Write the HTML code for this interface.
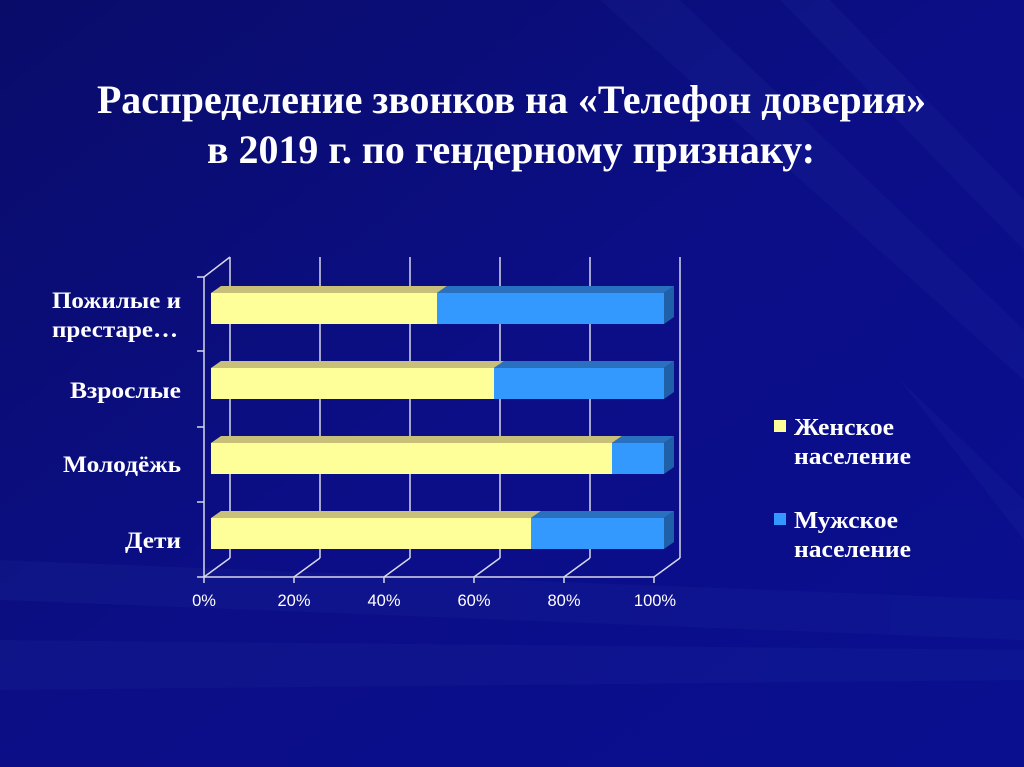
<!DOCTYPE html>
<html><head><meta charset="utf-8"><style>html,body{margin:0;padding:0;background:#0a0a7a}svg{display:block}</style></head>
<body>
<svg width="1024" height="767" viewBox="0 0 1024 767" xmlns="http://www.w3.org/2000/svg">
<defs>
<linearGradient id="bg" x1="0" y1="0" x2="1" y2="1">
<stop offset="0" stop-color="#0a0c6a"/><stop offset="0.5" stop-color="#0b0e86"/><stop offset="1" stop-color="#0a0f90"/>
</linearGradient>
</defs>
<rect width="1024" height="767" fill="url(#bg)"/>
<g fill="#2a3aa8" opacity="0.14">
<polygon points="0,560 1024,600 1024,640 0,600"/>
<polygon points="600,0 680,0 1024,330 1024,380"/>
<polygon points="780,0 830,0 1024,200 1024,250"/>
<polygon points="0,640 1024,650 1024,680 0,690"/>
<polygon points="900,380 1024,500 1024,540"/>
</g>
<g font-family="Liberation Serif, serif" font-weight="bold" fill="#fff" font-size="40">
<text x="97" y="113" textLength="829" lengthAdjust="spacingAndGlyphs">Распределение звонков на «Телефон доверия»</text>
<text x="207" y="163" textLength="608" lengthAdjust="spacingAndGlyphs">в 2019 г. по гендерному признаку:</text>
</g>
<g stroke="#d8d8e8" stroke-width="1.5" fill="none">
<polyline points="230,558 230,257"/>
<line x1="320" y1="558" x2="320" y2="257"/><line x1="410" y1="558" x2="410" y2="257"/>
<line x1="500" y1="558" x2="500" y2="257"/><line x1="590" y1="558" x2="590" y2="257"/>
<line x1="680" y1="558" x2="680" y2="257"/>
<polyline points="204,277 204,577 654,577"/>
<line x1="204" y1="277" x2="230" y2="257"/>
<line x1="204" y1="577" x2="230" y2="558"/><line x1="294" y1="577" x2="320" y2="558"/>
<line x1="384" y1="577" x2="410" y2="558"/><line x1="474" y1="577" x2="500" y2="558"/>
<line x1="564" y1="577" x2="590" y2="558"/><line x1="654" y1="577" x2="680" y2="558"/>
<line x1="197" y1="277" x2="204" y2="277"/><line x1="197" y1="351" x2="204" y2="351"/>
<line x1="197" y1="427" x2="204" y2="427"/><line x1="197" y1="502" x2="204" y2="502"/>
<line x1="197" y1="577" x2="204" y2="577"/>
<line x1="204" y1="577" x2="204" y2="583"/><line x1="294" y1="577" x2="294" y2="583"/>
<line x1="384" y1="577" x2="384" y2="583"/><line x1="474" y1="577" x2="474" y2="583"/>
<line x1="564" y1="577" x2="564" y2="583"/><line x1="654" y1="577" x2="654" y2="583"/>
</g>
<g id="bars">
<polygon points="211,293 221,286 447,286 437,293" fill="#c8c078"/>
<polygon points="437,293 447,286 674,286 664,293" fill="#2a70c0"/>
<polygon points="664,293 674,286 674,317 664,324" fill="#2060a8"/>
<rect x="211" y="293" width="226" height="31" fill="#ffff99"/>
<rect x="437" y="293" width="227" height="31" fill="#3399ff"/>
<polygon points="211,368 221,361 504,361 494,368" fill="#c8c078"/>
<polygon points="494,368 504,361 674,361 664,368" fill="#2a70c0"/>
<polygon points="664,368 674,361 674,392 664,399" fill="#2060a8"/>
<rect x="211" y="368" width="283" height="31" fill="#ffff99"/>
<rect x="494" y="368" width="170" height="31" fill="#3399ff"/>
<polygon points="211,443 221,436 622,436 612,443" fill="#c8c078"/>
<polygon points="612,443 622,436 674,436 664,443" fill="#2a70c0"/>
<polygon points="664,443 674,436 674,467 664,474" fill="#2060a8"/>
<rect x="211" y="443" width="401" height="31" fill="#ffff99"/>
<rect x="612" y="443" width="52" height="31" fill="#3399ff"/>
<polygon points="211,518 221,511 541,511 531,518" fill="#c8c078"/>
<polygon points="531,518 541,511 674,511 664,518" fill="#2a70c0"/>
<polygon points="664,518 674,511 674,542 664,549" fill="#2060a8"/>
<rect x="211" y="518" width="320" height="31" fill="#ffff99"/>
<rect x="531" y="518" width="133" height="31" fill="#3399ff"/>
</g>
<g font-family="Liberation Serif, serif" font-weight="bold" fill="#fff" font-size="23">
<text x="52" y="308" textLength="129" lengthAdjust="spacingAndGlyphs">Пожилые и</text>
<text x="52" y="337" textLength="126" lengthAdjust="spacingAndGlyphs">престаре…</text>
<text x="70" y="398" textLength="111" lengthAdjust="spacingAndGlyphs">Взрослые</text>
<text x="63" y="472" textLength="118" lengthAdjust="spacingAndGlyphs">Молодёжь</text>
<text x="125" y="548" textLength="56" lengthAdjust="spacingAndGlyphs">Дети</text>
</g>
<g font-family="Liberation Sans, sans-serif" fill="#fff" font-size="16.5" text-anchor="middle">
<text x="204" y="606">0%</text><text x="294" y="606">20%</text><text x="384" y="606">40%</text>
<text x="474" y="606">60%</text><text x="564" y="606">80%</text><text x="655" y="606">100%</text>
</g>
<rect x="774" y="420" width="12" height="12" fill="#ffff99"/>
<rect x="774" y="513" width="12" height="12" fill="#3399ff"/>
<g font-family="Liberation Serif, serif" font-weight="bold" fill="#fff" font-size="24">
<text x="794" y="435" textLength="100" lengthAdjust="spacingAndGlyphs">Женское</text>
<text x="794" y="464" textLength="117" lengthAdjust="spacingAndGlyphs">население</text>
<text x="794" y="528" textLength="104" lengthAdjust="spacingAndGlyphs">Мужское</text>
<text x="794" y="557" textLength="117" lengthAdjust="spacingAndGlyphs">население</text>
</g>
</svg>
</body></html>
